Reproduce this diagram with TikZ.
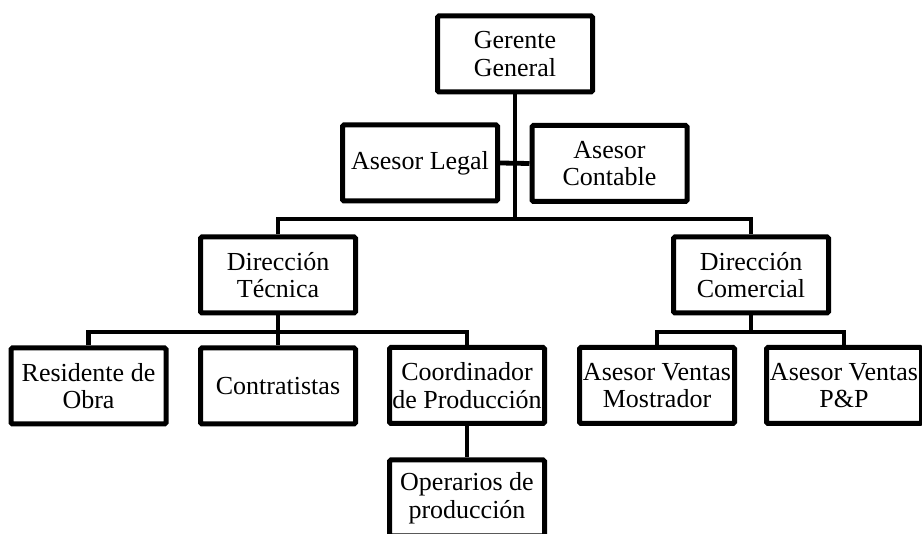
\documentclass[tikz,border=0pt]{standalone}
\usepackage{fontspec}
\setmainfont{Liberation Serif}
\begin{document}
\begin{tikzpicture}[x=1pt,y=-1pt,
  unit/.style={draw=black, fill=white, line width=5pt, rounded corners=1.5pt,
    minimum width=155pt, minimum height=76pt, inner sep=0pt, align=center,
    font=\fontsize{26}{27.5}\selectfont},
  link/.style={draw=black, line width=4.8pt}]
\useasboundingbox (0,0) rectangle (922,534);

% top management
\node[unit] (gg) at (515,54) {Gerente\\General};
\node[unit] (legal) at (420,163) {Asesor Legal};
\node[unit] (cont) at (609.5,163.5) {Asesor\\Contable};

% directions
\node[unit] (tec) at (278,275) {Dirección\\Técnica};
\node[unit] (com) at (751,275) {Dirección\\Comercial};

% operational level
\node[unit] (res) at (88.5,386) {Residente de\\Obra};
\node[unit] (contr) at (278,386) {Contratistas};
\node[unit] (coord) at (467,385.5) {Coordinador\\de Producción};
\node[unit] (most) at (657,385.5) {Asesor Ventas\\Mostrador};
\node[unit] (pp) at (844,385.5) {Asesor Ventas\\P\&P};
\node[unit] (oper) at (467,498) {Operarios de\\producción};

% junction points of the tree
\coordinate (j0) at (515,219);
\coordinate (j1) at (278,332);
\coordinate (j2) at (751,332);

% connectors
\draw[link] (gg.south) -- (j0);
\draw[link] (legal.east) -- (cont.west);
\draw[link] (tec.north) |- (j0) -| (com.north);
\draw[link] (tec.south) -- (j1);
\draw[link] (res.north) |- (j1) -| (coord.north);
\draw[link] (j1) -- (contr.north);
\draw[link] (com.south) -- (j2);
\draw[link] (most.north) |- (j2) -| (pp.north);
\draw[link] (coord.south) -- (oper.north);
\end{tikzpicture}
\end{document}
